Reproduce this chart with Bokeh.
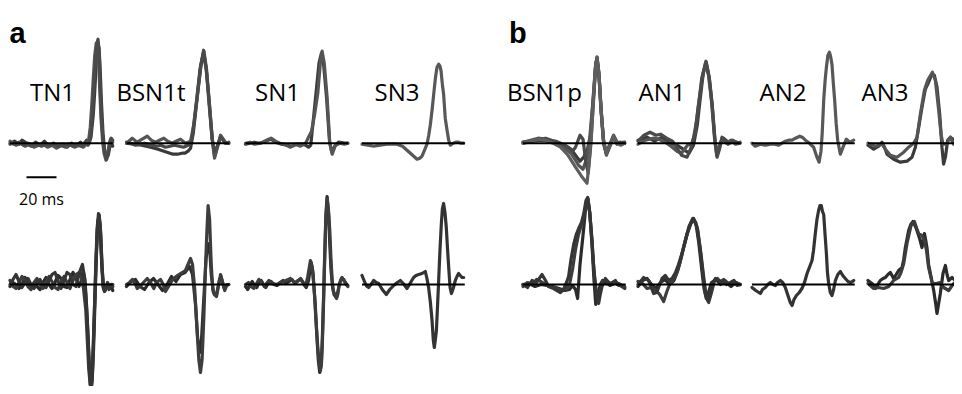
from bokeh.plotting import figure
from bokeh.models import Range1d
from bokeh.embed import file_html
from bokeh.resources import INLINE
from bokeh.core.properties import value

# ---------------- data: spike waveforms, (time in ms, amplitude in a.u.) ----------------
panel_names_a = ["TN1", "BSN1t", "SN1", "SN3"]
panel_names_b = ["BSN1p", "AN1", "AN2", "AN3"]
scale_bar_ms = 20
scale_bar_label = "20 ms"
window_ms = 68.5

# ---- top row ----
TN1_TOP_A = [(0,0),(3,-1),(6,1),(9,-2),(12,0),(15,-2),(18,-1),(21,-3),(24,-1),(27,-2),(30,-1),(33,-3),(36,-2),(39,-1),(42,-3),(45,-2),(48,-3),(50,1),(52,-2),(53,2),(54,10),(55,30),(56,58),(57,82),(58,100),(58.7,104),(59.5,90),(60.2,52),(61,25),(62,5),(63,-8),(64.5,-16),(65.5,-10),(66.5,0),(67.5,5),(68.5,3)]
TN1_TOP_B = [(0,2),(2,0),(4,-2),(7,0),(10,-3),(13,-1),(16,-4),(19,-2),(22,-1),(25,-4),(28,-2),(31,-5),(34,-2),(37,-4),(40,-1),(43,-4),(46,-2),(49,-4),(51,-1),(52.5,4),(53.5,16),(54.5,38),(55.5,64),(56.5,88),(57.5,100),(58.3,101),(59,88),(59.8,55),(60.7,24),(61.7,2),(62.7,-10),(64,-17),(65,-12),(66,-2),(67,4),(68.5,1)]
TN1_TOP_C = [(0,-1),(3,2),(6,-1),(8,3),(11,0),(14,-3),(17,1),(20,-2),(23,2),(26,-3),(29,0),(32,-4),(35,-1),(38,-4),(41,0),(44,-3),(47,1),(49,-2),(51,3),(52.5,-1),(54,6),(55.5,28),(56.5,52),(57.5,80),(58.5,98),(59.3,96),(60,78),(61,40),(62,10),(63,-6),(64.5,-14),(65.5,-12),(66.5,-4),(67.5,2),(68.5,-3)]

BSN1T_TOP_A = [(0,0),(3.8,5),(7.1,1),(10.5,4),(13.8,7),(16.5,3),(19.3,1),(22,3),(24.9,5),(27.5,2),(30.4,0),(33,2),(36,4),(39.3,0),(42.7,2),(45,20),(47.1,46),(49.5,78),(51.6,92),(53.3,75),(54.9,46),(57.1,5),(58.7,-15),(60.5,-5),(62.7,8),(64.5,4),(66,0),(68.2,1)]
BSN1T_TOP_B = [(0,0),(5,-1),(10,-2),(16,-4),(21,-6),(27,-9),(31,-11),(34,-11),(37,-10),(39,-10),(41,-8),(42.7,-5),(44.5,10),(47,44),(49.5,76),(51.2,90),(53,76),(55,44),(57.2,4),(58.7,-13),(60.5,-4),(62.7,7),(66,1),(68.2,0)]
BSN1T_TOP_C = [(0,1),(3,0),(6,-2),(9,-1),(12,0),(16,-2),(20,-3),(23,-2),(26,-4),(29,-3),(32,-2),(35,-3),(38,-4),(41,-2),(42.5,-1),(44,8),(46.5,40),(49,74),(51.4,93),(53.3,72),(55,40),(57,5),(58.5,-8),(60.5,-3),(62.7,6),(66,0),(68.2,0)]

SN1_TOP_A = [(0,0),(3,1),(6,-1),(10,0),(14,3),(17,5),(20,2),(23,0),(26,-1),(30,-4),(33,-1),(36.7,-3),(39,-1),(40.5,1),(42,6),(44,12),(46,28),(48.2,50),(50,82),(51.1,92),(52.5,80),(54.4,46),(56.2,0),(57.8,-11),(59,-6),(60,-2),(63,0),(66,-1),(68.2,0)]
SN1_TOP_B = [(0,-1),(3,0),(6,1),(9,0),(12,1),(15,3),(17,4),(20,1),(24,-1),(28,-2),(31,-3),(34,-1),(38,-1),(40,-2),(42,-4),(43.5,-2),(45,20),(47,50),(49,80),(50.6,90),(52,80),(54,46),(56,2),(57.5,-9),(59.5,-3),(62,1),(66,0),(68.2,0)]

SN3_TOP_A = [(0,-1),(4,-2),(7.8,-3),(12,-2),(16.7,-1),(20,-1),(23.3,-1),(27,-3),(30,-7),(33,-11),(36.7,-16),(38.5,-15),(40,-13),(41.7,-7),(43.3,-1),(44.5,8),(45.6,19),(46.7,33),(47.8,49),(49,66),(50,76),(51.1,79),(52,77),(52.7,72),(53.5,60),(54.4,49),(55.5,25),(56.7,13),(57.8,3),(58.9,-2),(60.7,0),(62.5,1),(64.4,1),(66,0),(67.8,0)]

BSN1P_TOP_A = [(0,0),(5,2),(10,4),(15,3),(20,0),(25,-4),(30,-12),(35,-24),(39,-33),(42.7,-40),(44,-20),(45.5,5),(47,45),(48.3,75),(49.3,86),(50.5,72),(51.8,40),(53.5,5),(55.6,-11),(58,-2),(60.4,7),(62.7,0),(65,-2),(67.8,0)]
BSN1P_TOP_B = [(0,1),(5,3),(10,5),(15,4),(20,1),(26,-3),(32,-10),(37,-22),(40,-26),(42.5,-15),(44.5,5),(46.5,40),(48.3,76),(49.2,84),(50.5,70),(51.8,38),(53.5,3),(55.6,-10),(58,-1),(60.4,8),(62.7,1),(67.8,0)]
BSN1P_TOP_C = [(0,0),(4,1),(8,3),(12,4),(15,5),(19,3),(22,2),(25,0),(28,-2),(31,-5),(33,-8),(35,-4),(36,0),(38,8),(40,4),(42,-20),(43.5,-30),(45,-5),(47,42),(48.5,78),(49.4,86),(50.7,68),(52,35),(53.8,0),(55.6,-12),(58,-3),(60.4,6),(62.7,-1),(65,1),(67.8,0)]
BSN1P_TOP_D = [(0,1),(6,2),(12,3),(18,2),(24,0),(28,-3),(32,-6),(35,-12),(38,-18),(40.5,-14),(43,-6),(45,8),(47,48),(48.5,80),(49.4,85),(50.8,66),(52.2,30),(54,-2),(55.6,-10),(58,-1),(60.4,7),(63,0),(67.8,1)]

AN1_TOP_A = [(0,2),(4,8),(8,11),(12,8),(15,9),(19,5),(23,2),(26,-5),(29,-12),(32.7,-14),(35,-6),(37,5),(39,22),(40.5,40),(42.5,65),(45.3,82),(47.5,65),(49.3,40),(51.3,2),(52.7,-14),(54.5,-5),(56,6),(58,2),(60,-1),(63,3),(66,0),(68,1)]
AN1_TOP_B = [(0,-1),(5,3),(10,5),(14,4),(18,1),(22,-3),(26,-8),(29,-10),(31,-6),(33,-2),(36,0),(38,10),(40,35),(42.5,62),(45,80),(47,68),(49,42),(51,5),(52.5,-12),(54,-4),(56,5),(59,0),(62,3),(65,-1),(68,0)]
AN1_TOP_C = [(0,3),(6,6),(11,2),(16,6),(21,0),(26,-2),(30,-6),(34,-10),(37,-2),(39.5,18),(41.5,45),(43.5,70),(45.5,81),(47.5,66),(49.5,38),(51.5,0),(53,-10),(55,0),(57,5),(61,0),(64,2),(68,0)]

AN2_TOP_A = [(0,0),(2.2,-3),(5.6,-1),(9,-2),(12.2,-1),(15,-1),(17.8,-2),(20,0),(22.2,2),(24.5,3),(26.7,3),(29,5),(31.8,7),(33.5,6),(35.6,3),(37.5,1),(38.9,-1),(41.1,-4),(43.3,-14),(44.7,-19),(46,-8),(46.8,10),(47.8,43),(48.7,62),(49.6,76),(50.6,88),(51.6,91),(52.5,86),(53.3,79),(54.2,60),(55.1,43),(56.1,20),(57.1,3),(58.9,-11),(60.7,-4),(62.9,4),(65.1,1),(66.5,2),(67.8,3)]

AN3_TOP_A = [(0,-2),(3.8,-6),(7.1,-3),(9.3,1),(11,-4),(12.7,-11),(17.1,-16),(21.6,-19),(26,-18),(29.3,-14),(31.6,-4),(33.8,16),(36,36),(38.2,54),(40.4,61),(42.7,69),(44.2,68),(46,56),(47.8,29),(49.3,-4),(50.4,-21),(51.6,-14),(53.1,3),(54.9,6),(57.1,3),(59.8,8),(62.9,3),(65.5,2),(68,0)]
AN3_TOP_B = [(0,0),(4.9,-3),(9.3,-1),(11.6,-6),(14.9,-12),(19.3,-14),(23.8,-9),(27.1,-4),(30.4,0),(32.7,6),(34.9,29),(37.6,53),(39.8,63),(42.9,71),(44.9,63),(47.1,33),(48.7,9),(50,-1),(52.2,-1),(54.9,6),(57.1,-1),(60.4,9),(62.9,4),(65.5,1),(68,0)]

# ---- bottom row ----
TN1_BOT_A = [(0,0),(2,5),(4,10),(6,3),(8,-3),(10,2),(12,6),(14,0),(16,-4),(18,2),(20,5),(22,0),(24,-3),(26,4),(28,10),(30,12),(32,4),(34,-4),(36,4),(38,12),(40,10),(42,0),(44,-2),(45.5,8),(47,15),(48.3,20),(49.3,10),(50.5,-10),(51.5,-35),(52.5,-70),(53.5,-100),(54.3,-106),(55.2,-80),(56,-40),(57,10),(58,55),(59,71),(60,60),(61,25),(62,-2),(63,-7),(64,-2),(65,0),(66,-4),(67.5,0),(68.5,-2)]
TN1_BOT_B = [(0,4),(2,-2),(4,-4),(6,2),(8,8),(10,4),(12,-2),(14,-5),(16,2),(18,6),(20,1),(22,-4),(24,2),(26,8),(28,3),(30,-3),(32,-5),(34,3),(36,8),(38,2),(40,-4),(42,4),(44,10),(46,12),(47.5,6),(49,-4),(50.5,-25),(51.5,-55),(52.5,-85),(53.5,-100),(54.5,-95),(55.5,-60),(56.5,-15),(57.5,30),(58.5,62),(59.5,69),(60.5,50),(61.5,15),(62.5,-5),(63.5,-6),(65,2),(66.5,-3),(68.5,0)]
TN1_BOT_C = [(0,-2),(2,2),(4,0),(6,-4),(8,0),(10,7),(12,3),(14,-3),(16,1),(18,-2),(20,-5),(22,2),(24,7),(26,0),(28,-4),(30,2),(32,9),(34,6),(36,-2),(38,-3),(40,5),(42,12),(44,6),(46,-2),(47.5,4),(48.8,14),(50,5),(51,-20),(52,-50),(53,-85),(54,-103),(54.8,-96),(55.7,-65),(56.5,-25),(57.5,25),(58.5,60),(59.3,70),(60.3,55),(61.3,18),(62.3,-4),(63.5,-5),(65,1),(66,-5),(67.5,-1),(68.5,-6)]

BSN1T_BOT_A = [(0,0),(2,2),(4,5),(6,0),(7.1,-4),(10,0),(13.8,6),(16,2),(18.2,-4),(20,2),(22.7,5),(24.5,0),(26,-7),(28,-2),(30.4,4),(33,8),(36,11),(39.3,14),(42.7,26),(44,20),(45.5,-5),(47,-45),(48.2,-75),(49.3,-88),(50.4,-75),(51.5,-35),(52.5,10),(53.5,50),(54.4,79),(55.4,65),(56.5,20),(57.5,-5),(58.5,-10),(60,-12),(61.5,0),(62.7,10),(64,2),(65.5,-6),(67,0),(68.2,0)]
BSN1T_BOT_B = [(0,-2),(3,3),(6,5),(9,-2),(12,-5),(15,2),(18,6),(21,0),(24,-6),(27,0),(30,8),(33,3),(36,10),(39,12),(42,18),(44,10),(46,-20),(47.5,-55),(48.8,-68),(50,-55),(51.5,-15),(53,25),(54.2,41),(55.5,35),(56.5,10),(58,-8),(60,-10),(62,5),(63,8),(65,-3),(68.2,0)]

SN1_BOT_A = [(0,0),(2,2),(3.5,-2),(5.6,-4),(7,0),(8.9,5),(11,2),(12.5,-2),(14,1),(15.6,4),(18,1),(21,0),(24,2),(27,4),(30,6),(32.5,2),(34.5,3),(36.7,6),(38.5,2),(40,-2),(41.5,8),(43.3,24),(44.3,18),(45.1,10),(46,-10),(46.7,-29),(48.2,-63),(49.2,-80),(50,-86),(50.7,-78),(51.3,-56),(52,-20),(52.7,20),(53.5,62),(54.4,86),(55.3,75),(56.2,54),(57,25),(57.8,4),(58.5,-6),(59.3,-9),(60.7,-14),(61.5,-10),(62.2,-3),(63.3,4),(64.4,7),(65.5,4),(66.7,2),(68.2,-2)]
SN1_BOT_B = [(0,-2),(1.5,-5),(3,0),(4.5,3),(6,-1),(7.5,-3),(9,2),(10.5,4),(12,0),(13.5,-3),(15,1),(17,3),(19,0),(21,-1),(23,2),(25,4),(27,1),(29,3),(31,5),(33,1),(35,4),(37,5),(39,0),(40.5,-3),(42,4),(43,14),(43.8,22),(44.7,15),(45.5,0),(46.5,-20),(47.5,-50),(48.5,-75),(49.5,-88),(50.5,-80),(51.2,-55),(52,-15),(52.8,30),(53.6,70),(54.4,88),(55.4,70),(56.2,40),(57,15),(58,-2),(59,-10),(60.5,-13),(61.5,-8),(62.5,0),(64,6),(65.5,5),(67,0),(68.2,-1)]

SN3_BOT_A = [(0,9),(1.1,5),(2.2,1),(3.3,-2),(4.4,-3),(6,0),(7.8,4),(9.5,2),(11.1,1),(13.5,-5),(16.2,-10),(18.5,-5),(21.1,-1),(23.5,2),(25.6,4),(27.5,1),(30,-4),(32,1),(34.4,7),(36,9),(37.8,10),(40,11),(42.2,13),(43.3,6),(44.4,-3),(45.6,-18),(46.7,-36),(47.5,-55),(48.2,-63),(48.9,-55),(49.6,-46),(50.4,-20),(51.1,4),(52,35),(52.9,61),(53.6,76),(54.4,81),(55.3,72),(56.2,57),(57,36),(57.8,17),(58.7,-3),(59.6,-9),(60.8,-4),(62.2,4),(63.3,8),(64.4,11),(65.5,9),(66.7,7),(67.8,7)]

BSN1P_BOT_A = [(0,0),(3,-3),(6,4),(9,2),(12.7,10),(15,4),(17,-2),(20.4,-4),(24.9,-8),(27,-5),(29,2),(30.4,8),(32,25),(33.8,40),(35.5,50),(37.1,56),(39,62),(40.4,70),(42,84),(43.1,87),(44.3,75),(46,45),(47,20),(48.2,0),(49.3,-12),(50.4,-19),(51.5,-10),(52.7,-2),(54.9,6),(56.5,3),(58.2,0),(60,2),(61.6,4),(63,0),(64.9,-1),(67.8,-4)]
BSN1P_BOT_B = [(0,-2),(3,2),(6,0),(9,5),(12,3),(15,0),(18,-2),(21,-3),(24,-5),(27,-6),(29,-4),(31,0),(33,15),(35,35),(37,50),(39,60),(41,72),(43,84),(44.5,72),(46,42),(47.5,10),(48.8,-8),(50,-15),(51.5,-6),(53,3),(55,5),(58,1),(61,3),(64,-1),(67.8,-2)]
BSN1P_BOT_C = [(0,0),(4,1),(8,-2),(12,0),(16,-1),(20,-2),(24,-4),(28,-6),(31,-5),(33,-1),(35,-5),(36.4,-14),(38,20),(40.4,55),(42,80),(43.3,86),(44.6,70),(46,40),(47.3,5),(48.5,-20),(50,-10),(51.5,0),(53,4),(55,2),(58,-1),(62,2),(65,0),(67.8,-3)]

AN1_BOT_A = [(0,0),(3.8,7),(7.1,4),(10.4,-9),(12.5,-8),(16,6),(18.2,9),(20.4,4),(22.7,6),(25,12),(27,20),(29.3,31),(31,40),(32.7,50),(34.9,60),(37.1,66),(39.3,58),(41.6,34),(43.3,10),(44.9,-9),(46.5,-16),(48,-10),(49.3,0),(51.6,6),(54.9,3),(57.1,5),(59,0),(61.6,2),(64,4),(66,-1),(68.2,0)]
AN1_BOT_B = [(0,3),(3,1),(6,-4),(9,-3),(12,-6),(14.5,-10),(17.1,-17),(19,-8),(21,0),(23,4),(25.5,10),(28,22),(30.5,38),(33,52),(35.5,62),(37.5,64),(39.8,55),(42,30),(44,5),(45.5,-12),(47.1,-18),(49,-8),(51,4),(53,6),(55.5,2),(58,4),(61,0),(64,3),(68,0)]
AN1_BOT_C = [(0,-2),(3,4),(6,6),(9,0),(12,-4),(15,2),(18,5),(21,0),(24,4),(26.5,14),(29,28),(31.5,44),(34,58),(36.5,66),(38.5,62),(40.5,42),(42.5,15),(44,-4),(45.5,-14),(47,-8),(49,2),(52,5),(55,0),(58,3),(62,-2),(65,2),(68,0)]

AN2_BOT_A = [(0,-3),(2.5,-6),(5.6,-9),(7,-5),(8.9,-3),(10.5,0),(12.2,2),(14,0),(15.6,-1),(17,2),(18.9,4),(20.5,2),(22.2,-3),(23.3,-8),(24.4,-13),(25.5,-18),(26.7,-21),(28,-15),(29.6,-11),(31.5,-8),(33.3,-4),(35,2),(36.7,11),(38.5,18),(40,24),(41,34),(42.2,51),(43.3,65),(44.4,74),(45.3,79),(46.2,79),(47,73),(47.8,70),(48.7,50),(49.6,31),(50.3,12),(51.1,1),(52.2,-8),(53.3,-11),(54.4,-5),(55.6,4),(57.2,10),(58.9,13),(60.5,9),(62.2,6),(64,3),(65.6,2),(67,3),(67.8,4)]

AN3_BOT_A = [(0,4),(2.7,1),(4.9,-4),(6.5,0),(8.2,4),(10,6),(11.6,7),(13.3,10),(14.9,12),(17.1,6),(18.8,10),(20.4,14),(22.7,17),(23.8,25),(24.9,37),(27.1,54),(28.5,60),(30,63),(31,60),(32.2,56),(34.4,46),(36,37),(37.6,51),(38.4,45),(39.3,37),(40.4,20),(41.6,11),(43.8,-6),(45,-18),(46,-29),(47,-20),(48.2,-9),(50,11),(51.6,19),(52.7,10),(53.8,4),(56,7),(58.2,4),(60.4,6),(62.9,4),(65.5,5),(68,3)]
AN3_BOT_B = [(0,1),(3.8,-4),(7,-3),(10.4,-4),(13.8,-2),(17.1,4),(20.4,7),(22,12),(23.8,21),(26,41),(28.7,59),(30.9,63),(32.5,56),(33.8,51),(36,49),(37.6,44),(39,34),(40.4,17),(42.9,1),(45.6,1),(48,2),(50.4,-3),(53.8,-6),(57.1,1),(60.4,4),(62.9,1),(65.5,2),(68,0)]

# ---------------- layout (positions / styles) ----------------
PX_PER_MS = 1.5
COL_OFFSET_MS = [0, 77.67, 157, 234.67, 342, 418.67, 494.67, 572]
ROW_OFFSET = [0, -141.3]
LABEL_CENTER_MS = [28.3, 16.3, 21.3, 23.3, 14.3, 16.0, 20.7, 11.3]
LABEL_BASE = 51.7

TOP_COLORS = ["#3a3a3a", "#555555", "#4a4a4a", "#5e5e5e"]
BOT_COLORS = ["#2b2b2b", "#3d3d3d", "#353535"]

top_panels = [
    [TN1_TOP_C, TN1_TOP_B, TN1_TOP_A],
    [BSN1T_TOP_B, BSN1T_TOP_A, BSN1T_TOP_C],
    [SN1_TOP_B, SN1_TOP_A],
    [SN3_TOP_A],
    [BSN1P_TOP_D, BSN1P_TOP_B, BSN1P_TOP_C, BSN1P_TOP_A],
    [AN1_TOP_C, AN1_TOP_B, AN1_TOP_A],
    [AN2_TOP_A],
    [AN3_TOP_A, AN3_TOP_B],
]
bottom_panels = [
    [TN1_BOT_C, TN1_BOT_B, TN1_BOT_A],
    [BSN1T_BOT_B, BSN1T_BOT_A],
    [SN1_BOT_B, SN1_BOT_A],
    [SN3_BOT_A],
    [BSN1P_BOT_C, BSN1P_BOT_B, BSN1P_BOT_A],
    [AN1_BOT_C, AN1_BOT_B, AN1_BOT_A],
    [AN2_BOT_A],
    [AN3_BOT_A, AN3_BOT_B],
]

W, H = 954, 386
x0 = -9.5 / PX_PER_MS
y_top = 142.7
p = figure(width=W, height=H, output_backend="svg", toolbar_location=None,
           x_range=Range1d(x0, x0 + W / PX_PER_MS), y_range=Range1d(y_top - H, y_top),
           x_axis_location=None, y_axis_location=None, min_border=0,
           background_fill_color="white", border_fill_color="white")
p.grid.visible = False
p.outline_line_color = None

single_top = "#585858"
single_bot = "#333333"

for row, panels in enumerate([top_panels, bottom_panels]):
    colors = TOP_COLORS if row == 0 else BOT_COLORS
    for col, traces in enumerate(panels):
        for k, tr in enumerate(traces):
            ts = [COL_OFFSET_MS[col] + t for t, v in tr]
            vs = [ROW_OFFSET[row] + v for t, v in tr]
            if len(traces) == 1:
                c = single_top if row == 0 else single_bot
            else:
                c = colors[k % len(colors)]
            p.line(ts, vs, line_color=c, line_width=3.2, line_join="round", line_cap="round")
        # zero baseline on top of traces
        p.line([COL_OFFSET_MS[col], COL_OFFSET_MS[col] + window_ms],
               [ROW_OFFSET[row], ROW_OFFSET[row]], line_color="black", line_width=2)

names = panel_names_a + panel_names_b
p.text(x=[COL_OFFSET_MS[i] + LABEL_CENTER_MS[i] for i in range(8)], y=[LABEL_BASE] * 8,
       text=names, text_font=value("Open Sans"), text_font_size="24px",
       text_align="center", text_baseline="alphabetic", text_color="black")

# panel letters
p.text(x=[-0.33, 332.7], y=[110.7, 110.7], text=["a", "b"],
       text_font=value("Liberation Sans"), text_font_style="bold", text_font_size="29px",
       text_align="left", text_baseline="alphabetic", text_color="black")

# scale bar
bar_x = 11.0
bar_y = -34.0
p.line([bar_x, bar_x + scale_bar_ms], [bar_y, bar_y], line_color="black", line_width=2)
p.text(x=[bar_x + scale_bar_ms / 2], y=[-55.3], text=[scale_bar_label],
       text_font=value("Open Sans"), text_font_size="16px",
       text_align="center", text_baseline="alphabetic", text_color="black")

open("out.html", "w").write(file_html(p, INLINE))
